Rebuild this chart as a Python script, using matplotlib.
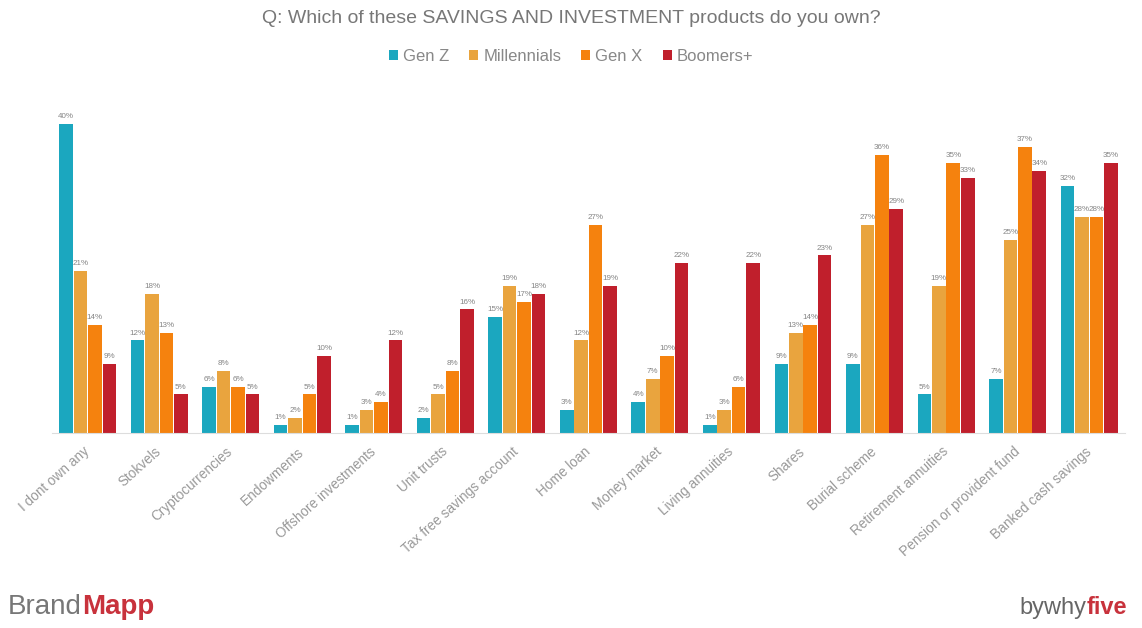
import numpy as np
import matplotlib.pyplot as plt
from matplotlib.transforms import offset_copy

plt.rcParams['font.family'] = ['Liberation Sans', 'DejaVu Sans']

categories = ["I dont own any", "Stokvels", "Cryptocurrencies", "Endowments",
              "Offshore investments", "Unit trusts", "Tax free savings account",
              "Home loan", "Money market", "Living annuities", "Shares",
              "Burial scheme", "Retirement annuities", "Pension or provident fund",
              "Banked cash savings"]
series = ["Gen Z", "Millennials", "Gen X", "Boomers+"]
gen_z = [40, 12, 6, 1, 1, 2, 15, 3, 4, 1, 9, 9, 5, 7, 32]
millennials = [21, 18, 8, 2, 3, 5, 19, 12, 7, 3, 13, 27, 19, 25, 28]
gen_x = [14, 13, 6, 5, 4, 8, 17, 27, 10, 6, 14, 36, 35, 37, 28]
boomers = [9, 5, 5, 10, 12, 16, 18, 19, 22, 22, 23, 29, 33, 34, 35]
colors = ["#1ba7bf", "#e9a43e", "#f5820e", "#c01f2c"]

fig = plt.figure(figsize=(11.42, 6.28), dpi=100)
ax = fig.add_axes([0.0455, 0.3105, 0.9395, 0.5532])

x = np.arange(len(categories))
w = 0.19
for i, (vals, name, c) in enumerate(zip([gen_z, millennials, gen_x, boomers], series, colors)):
    pos = x + (i - 1.5) * (w + 0.012)
    ax.bar(pos, vals, width=w, color=c, label=name)
    for p, v in zip(pos, vals):
        ax.text(p, v + 0.5, f"{v}%", ha="center", va="bottom", fontsize=5.8, color="#858585")

ax.set_xlim(-0.5, len(categories) - 0.5)
ax.set_ylim(0, 45)
ax.set_yticks([])
ax.set_xticks(x)
ax.set_xticklabels(categories, rotation=42, ha="right", va="center", rotation_mode="anchor",
                   fontsize=9.8, color="#999999")
ax.tick_params(axis="x", length=0, pad=12)
for s in ["top", "right", "left"]:
    ax.spines[s].set_visible(False)
ax.spines["bottom"].set_color("#dddddd")

fig.text(0.5, 0.971, "Q: Which of these SAVINGS AND INVESTMENT products do you own?",
         ha="center", va="center", fontsize=14, color="#777777")
ax.legend(loc="center", bbox_to_anchor=(0.5, 0.91), bbox_transform=fig.transFigure,
          ncol=4, frameon=False, fontsize=12, handlelength=0.55, handleheight=0.55,
          handletextpad=0.3, columnspacing=1.2, labelcolor="#888888")

# logos
fig.canvas.draw()
r = fig.canvas.get_renderer()
t1 = fig.text(0.007, 0.022, "Brand", fontsize=20, color="#777777", va="baseline")
w1 = t1.get_window_extent(r).width
fig.text(0.007, 0.022, "Mapp", fontsize=20, color="#c8323c", va="baseline", fontweight="bold",
         transform=offset_copy(fig.transFigure, fig=fig, x=w1 * 72 / fig.dpi, units="points"))
t2 = fig.text(0.987, 0.022, "five", fontsize=17, color="#c8323c", va="baseline", ha="right",
              fontweight="bold")
w2 = t2.get_window_extent(r).width
fig.text(0.987, 0.022, "bywhy", fontsize=17, color="#666666", va="baseline", ha="right",
         transform=offset_copy(fig.transFigure, fig=fig, x=-w2 * 72 / fig.dpi, units="points"))

fig.savefig("out.png", dpi=100, facecolor="white")
